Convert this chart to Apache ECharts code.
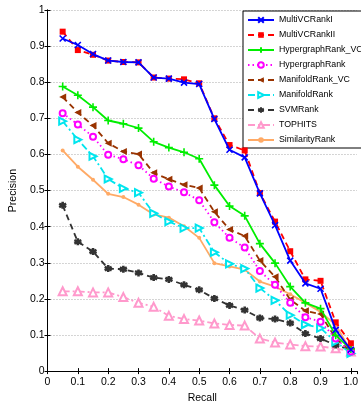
<!DOCTYPE html>
<html>
<head>
<meta charset="utf-8">
<style>
  html, body { margin: 0; padding: 0; background: #fff; }
  #chart { width: 361px; height: 409px; }
</style>
<script src="https://cdn.jsdelivr.net/npm/echarts@6/dist/echarts.min.js"></script>
</head>
<body>
<div id="chart"></div>
<script>
// Recall levels on the x axis
const recall = [0.05, 0.10, 0.15, 0.20, 0.25, 0.30, 0.35, 0.40, 0.45, 0.50,
                0.55, 0.60, 0.65, 0.70, 0.75, 0.80, 0.85, 0.90, 0.95, 1.00];

// Precision of each ranking method at those recall levels
const multiVCRankI = [0.921, 0.903, 0.878, 0.860, 0.856, 0.855, 0.813, 0.810, 0.799, 0.795,
                      0.698, 0.613, 0.592, 0.492, 0.404, 0.306, 0.243, 0.228, 0.114, 0.059];
const multiVCRankII = [0.940, 0.889, 0.876, 0.860, 0.856, 0.855, 0.813, 0.810, 0.808, 0.797,
                       0.700, 0.626, 0.611, 0.493, 0.414, 0.332, 0.254, 0.250, 0.135, 0.077];
const hypergraphRankVC = [0.788, 0.764, 0.731, 0.694, 0.685, 0.673, 0.635, 0.619, 0.606, 0.588,
                          0.515, 0.457, 0.430, 0.353, 0.299, 0.234, 0.189, 0.173, 0.099, 0.061];
const hypergraphRank = [0.714, 0.683, 0.649, 0.599, 0.587, 0.570, 0.533, 0.511, 0.495, 0.473,
                        0.412, 0.369, 0.342, 0.277, 0.239, 0.189, 0.149, 0.137, 0.090, 0.054];
const manifoldRankVC = [0.759, 0.716, 0.680, 0.631, 0.608, 0.601, 0.549, 0.531, 0.516, 0.507,
                        0.441, 0.392, 0.374, 0.306, 0.261, 0.198, 0.167, 0.158, 0.090, 0.056];
const manifoldRank = [0.692, 0.641, 0.595, 0.532, 0.506, 0.494, 0.437, 0.414, 0.396, 0.396,
                      0.329, 0.297, 0.284, 0.230, 0.196, 0.155, 0.129, 0.119, 0.081, 0.049];
const svmRank = [0.459, 0.358, 0.331, 0.284, 0.282, 0.272, 0.259, 0.254, 0.239, 0.225,
                 0.201, 0.182, 0.169, 0.147, 0.144, 0.133, 0.104, 0.090, 0.072, 0.059];
const topHits = [0.221, 0.221, 0.218, 0.218, 0.205, 0.189, 0.178, 0.153, 0.144, 0.140,
                 0.132, 0.128, 0.126, 0.090, 0.079, 0.074, 0.069, 0.068, 0.063, 0.054];
const similarityRank = [0.611, 0.566, 0.530, 0.491, 0.482, 0.461, 0.434, 0.425, 0.401, 0.369,
                        0.299, 0.290, 0.281, 0.248, 0.234, 0.213, 0.189, 0.164, 0.128, 0.056];

const methodNames = ['MultiVCRankI', 'MultiVCRankII', 'HypergraphRank_VC', 'HypergraphRank',
                     'ManifoldRank_VC', 'ManifoldRank', 'SVMRank', 'TOPHITS', 'SimilarityRank'];

const xTickStep = 0.1;
const yTickStep = 0.1;

// Marker shapes
const crossPath = 'path://M0 0L10 10M10 0L0 10';
const plusPath = 'path://M5 0L5 10M0 5L10 5';
const starPath = 'path://M5 0L5 10M0.67 2.5L9.33 7.5M0.67 7.5L9.33 2.5';

const LW = 1.8;
const styles = [
  { data: multiVCRankI, color: '#0000ff', type: 'solid', symbol: crossPath, size: 6, stroke: 1.6 },
  { data: multiVCRankII, color: '#ff0000', type: [6, 4], symbol: 'rect', size: 6 },
  { data: hypergraphRankVC, color: '#00ee00', type: 'solid', symbol: plusPath, size: 8, stroke: 1.6 },
  { data: hypergraphRank, color: '#ff00ff', type: [1.5, 3], symbol: 'emptyCircle', size: 6, stroke: 1.6 },
  { data: manifoldRankVC, color: '#993300', type: [6, 4], symbol: 'triangle', size: 7, rotate: 90 },
  { data: manifoldRank, color: '#00e5ee', type: [7, 3, 2, 3], symbol: 'emptyTriangle', size: 7, rotate: -90, stroke: 1.6 },
  { data: svmRank, color: '#333333', type: [6, 4], symbol: starPath, size: 7, stroke: 2.6 },
  { data: topHits, color: '#ff99cc', type: [7, 3, 2, 3], symbol: 'emptyTriangle', size: 8, stroke: 1.8 },
  { data: similarityRank, color: '#ffaa66', type: 'solid', symbol: 'circle', size: 4 }
];

const series = styles.map((s, i) => ({
  name: methodNames[i],
  type: 'line',
  xAxisIndex: 0,
  yAxisIndex: 0,
  data: recall.map((r, k) => [r, s.data[k]]),
  symbol: s.symbol,
  symbolSize: s.size,
  symbolRotate: s.rotate || 0,
  lineStyle: { color: s.color, width: LW, type: s.type },
  itemStyle: {
    color: s.color,
    borderColor: s.color,
    borderWidth: s.stroke || 0
  },
  z: 10 - i
}));

const axisFont = { fontFamily: 'Liberation Sans, Arial, sans-serif', fontSize: 10.5, color: '#000' };

const chart = echarts.init(document.getElementById('chart'), null, { renderer: 'canvas' });
chart.setOption({
  animation: false,
  backgroundColor: '#fff',
  grid: { left: 38, top: 10, width: 321, height: 370, containLabel: false },
  legend: {
    orient: 'vertical',
    left: 243,
    top: 11,
    padding: [4, 4, 3, 4],
    itemWidth: 26,
    itemHeight: 7,
    itemGap: 5,
    backgroundColor: '#fff',
    borderColor: '#000',
    borderWidth: 1,
    borderRadius: 0,
    data: methodNames,
    textStyle: {
      fontFamily: 'Liberation Sans, Arial, sans-serif',
      fontSize: 8.8,
      lineHeight: 10,
      color: '#000'
    }
  },
  xAxis: [
    {
      type: 'value', min: 0, max: 1.02, interval: xTickStep, position: 'bottom',
      name: 'Recall', nameLocation: 'middle', nameGap: 20,
      nameTextStyle: axisFont,
      axisLine: { lineStyle: { color: '#000', width: 1 } },
      axisTick: { inside: true, length: 3, lineStyle: { color: '#000' } },
      axisLabel: {
        ...axisFont, margin: 6, showMaxLabel: false,
        formatter: v => (Math.abs(v - 1) < 1e-9 ? '1.0' : String(Math.round(v * 10) / 10))
      },
      splitLine: { show: false }
    },
    {
      type: 'value', min: 0, max: 1.02, interval: xTickStep, position: 'top',
      axisLine: { lineStyle: { color: '#000', width: 1 } },
      axisTick: { inside: true, length: 3, lineStyle: { color: '#000' } },
      axisLabel: { show: false },
      splitLine: { show: false }
    }
  ],
  yAxis: [
    {
      type: 'value', min: 0, max: 1, interval: yTickStep, position: 'left',
      name: 'Precision', nameLocation: 'middle', nameGap: 19, nameRotate: 90,
      nameTextStyle: axisFont,
      axisLine: { show: true, lineStyle: { color: '#000', width: 1 } },
      axisTick: { show: true, inside: true, length: 3, lineStyle: { color: '#000' } },
      axisLabel: { ...axisFont, margin: 3 },
      splitLine: { show: true, lineStyle: { color: '#aaa', width: 1, type: [1, 2] } }
    },
    {
      type: 'value', min: 0, max: 1, interval: yTickStep, position: 'right',
      axisLine: { show: true, lineStyle: { color: '#000', width: 1 } },
      axisTick: { show: true, inside: true, length: 3, lineStyle: { color: '#000' } },
      axisLabel: { show: false },
      splitLine: { show: false }
    }
  ],
  series: series
});
</script>
</body>
</html>
